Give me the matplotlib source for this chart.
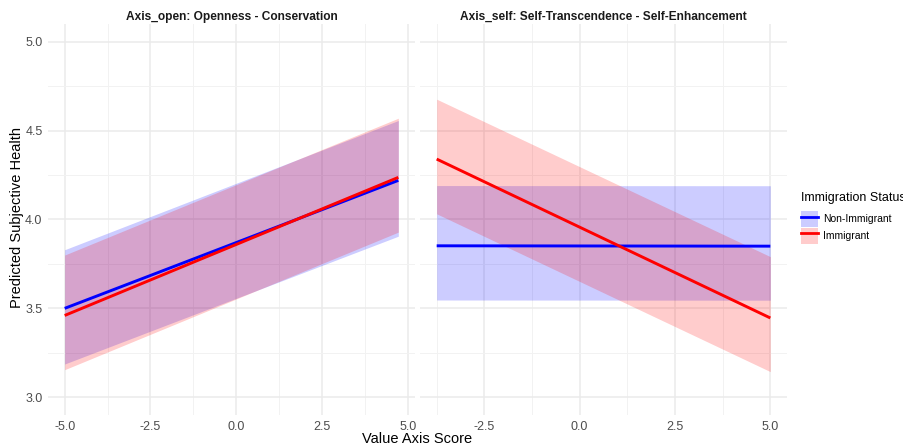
import numpy as np
import matplotlib.pyplot as plt
from matplotlib.patches import Patch
from matplotlib.lines import Line2D
from matplotlib.legend_handler import HandlerTuple

plt.rcParams['font.family'] = ['Liberation Sans', 'DejaVu Sans']

# panel titles
panels = ["Axis_open: Openness - Conservation",
          "Axis_self: Self-Transcendence - Self-Enhancement"]
groups = ["Non-Immigrant", "Immigrant"]
colors = ["#0000FF", "#FF0000"]

# x range of the data in each panel (endpoints of the straight lines)
x_open = [-5.0, 4.72]
x_self = [-3.75, 5.0]

# predicted values and ribbon bounds at the two ends
open_fit = {"Non-Immigrant": [3.50, 4.22], "Immigrant": [3.46, 4.237]}
open_lo = {"Non-Immigrant": [3.187, 3.906], "Immigrant": [3.155, 3.929]}
open_hi = {"Non-Immigrant": [3.83, 4.557], "Immigrant": [3.80, 4.570]}

self_fit = {"Non-Immigrant": [3.852, 3.850], "Immigrant": [4.340, 3.446]}
self_lo = {"Non-Immigrant": [3.547, 3.546], "Immigrant": [4.032, 3.144]}
self_hi = {"Non-Immigrant": [4.191, 4.190], "Immigrant": [4.677, 3.791]}

y_ticks = [3.0, 3.5, 4.0, 4.5, 5.0]
x_ticks = [-5.0, -2.5, 0.0, 2.5, 5.0]

fig = plt.figure(figsize=(9.04, 4.48), dpi=100)
ax1 = fig.add_axes([48 / 904, 1 - 415 / 448, 367 / 904, 391 / 448])
ax2 = fig.add_axes([420 / 904, 1 - 415 / 448, 367 / 904, 391 / 448])

data = [(ax1, x_open, open_fit, open_lo, open_hi),
        (ax2, x_self, self_fit, self_lo, self_hi)]

for i, (ax, xs, fit, lo, hi) in enumerate(data):
    for g, c in zip(groups, colors):
        ax.fill_between(xs, lo[g], hi[g], color=c, alpha=0.2, lw=0, zorder=2)
    for g, c in zip(groups, colors):
        ax.plot(xs, fit[g], color=c, lw=2.1, solid_capstyle='butt', zorder=3)

    span = xs[1] - xs[0]
    lims = (xs[0] - 0.05 * span, xs[1] + 0.05 * span)
    ax.set_xticks([t for t in x_ticks if lims[0] <= t <= lims[1]])
    ax.set_xticks(np.arange(-6.25, 6.3, 2.5), minor=True)
    ax.set_yticks(y_ticks)
    ax.set_yticks([3.25, 3.75, 4.25, 4.75], minor=True)
    ax.set_xlim(*lims)
    ax.set_ylim(2.9, 5.1)
    ax.grid(which='major', color='#EBEBEB', lw=1.1, zorder=0)
    ax.grid(which='minor', color='#F2F2F2', lw=0.7, zorder=0)
    ax.set_axisbelow(True)
    for s in ax.spines.values():
        s.set_visible(False)
    ax.tick_params(which='both', length=0, labelsize=9, labelcolor='#4D4D4D', pad=4)
    ax.set_xticklabels([f"{t:.1f}" for t in ax.get_xticks()])
    if i == 0:
        ax.set_yticklabels([f"{t:.1f}" for t in y_ticks])
    else:
        ax.set_yticklabels([])
    ax.set_title(panels[i], fontsize=8.6, fontweight='bold', color='#1A1A1A', pad=3)

fig.text(417 / 904, 1 - 439 / 448, "Value Axis Score", ha='center', va='center', fontsize=10.5)
fig.text(17 / 904, 1 - 218 / 448, "Predicted Subjective Health", ha='center', va='center',
         rotation=90, fontsize=10.5)

handles = [(Patch(facecolor=c, alpha=0.2, lw=0), Line2D([], [], color=c, lw=2)) for c in colors]
leg = fig.legend(handles, groups, title="Immigration Status", loc='upper left',
                 bbox_to_anchor=(801 / 904, 1 - 192 / 448), frameon=False, fontsize=7.5,
                 title_fontsize=9, handler_map={tuple: HandlerTuple(ndivide=1)},
                 handlelength=1.6, handleheight=2.0, labelspacing=0.05, handletextpad=0.5,
                 borderaxespad=0, borderpad=0.0)
leg._legend_box.align = "left"
leg._legend_box.sep = 5

fig.savefig("out.png", dpi=100)
